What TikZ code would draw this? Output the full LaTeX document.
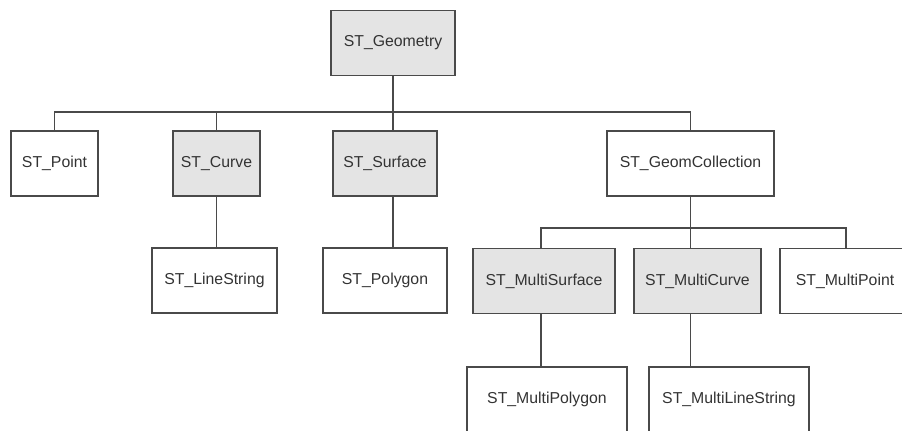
\documentclass[tikz,border=0pt]{standalone}
\usepackage{fontspec}
\setmainfont{Liberation Sans}
\usetikzlibrary{positioning}
\definecolor{boxgray}{HTML}{E4E4E4}
\definecolor{linegray}{HTML}{4A4A4A}
\tikzset{
  cls/.style={draw=linegray, line width=0.8pt, minimum height=1.3cm, inner sep=0pt,
    font=\fontsize{9}{11}\selectfont, text=black!80},
  abs/.style={cls, fill=boxgray},
  link/.style={draw=linegray, line width=0.7pt}
}

\begin{document}
\begin{tikzpicture}[x=0.02cm, y=-0.02cm]
      \useasboundingbox (0,0) rectangle (902,431);
      \clip (0,0) rectangle (902,431);

      \node[abs, minimum width=2.48cm] (geo) at (393,43) {ST\_Geometry};

      \node[cls, minimum width=1.74cm] (point) at (54.5,163.5) {ST\_Point};
      \node[abs, minimum width=1.74cm] (curve) at (216.5,163.5) {ST\_Curve};
      \node[abs, minimum width=2.08cm] (surface) at (385,163.5) {ST\_Surface};
      \node[cls, minimum width=3.34cm] (geomcoll) at (690.5,163.5) {ST\_GeomCollection};

      \node[cls, minimum width=2.5cm] (linestring) at (214.5,280.5) {ST\_LineString};
      \node[cls, minimum width=2.48cm] (polygon) at (385,280.5) {ST\_Polygon};
      \node[abs, minimum width=2.84cm] (msurface) at (544,281) {ST\_MultiSurface};
      \node[abs, minimum width=2.54cm] (mcurve) at (697.5,281) {ST\_MultiCurve};
      \node[cls, minimum width=2.6cm] (mpoint) at (845,281) {ST\_MultiPoint};

      \node[cls, minimum width=3.2cm] (mpolygon) at (547,399.5) {ST\_MultiPolygon};
      \node[cls, minimum width=3.2cm] (mlinestr) at (729,399.5) {ST\_MultiLineString};

      \coordinate (bus1) at (393,112);
      \coordinate (bus2) at (690.5,228);
      \coordinate (bus2l) at (541,228);
      \coordinate (bus2r) at (846,228);

      \draw[link] (geo) -- (bus1);
      \draw[link] (point.north) |- (bus1) -| (geomcoll.north);
      \draw[link] (curve.north) -- (curve.north |- bus1);
      \draw[link] (bus1) -- (bus1 |- surface.north);
      \draw[link] (curve.south) -- (curve.south |- linestring.north);
      \draw[link] (bus1 |- surface.south) -- (bus1 |- polygon.north);

      \draw[link] (geomcoll.south) -- (bus2);
      \draw[link] (bus2l |- msurface.north) -- (bus2l) -- (bus2r) -- (bus2r |- mpoint.north);
      \draw[link] (bus2) -- (bus2 |- mcurve.north);
      \draw[link] (bus2l |- msurface.south) -- (bus2l |- mpolygon.north);
      \draw[link] (bus2 |- mcurve.south) -- (bus2 |- mlinestr.north);
    \end{tikzpicture}
\end{document}
